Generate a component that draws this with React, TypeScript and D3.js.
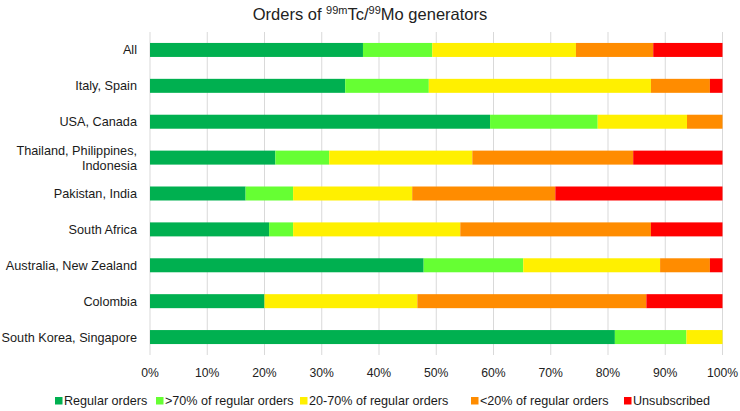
import React from "react";
import * as d3 from "d3";

const categories = [
  "All",
  "Italy, Spain",
  "USA, Canada",
  "Thailand, Philippines, Indonesia",
  "Pakistan, India",
  "South Africa",
  "Australia, New Zealand",
  "Colombia",
  "South Korea, Singapore",
];

const seriesNames = [
  "Regular orders",
  ">70% of regular orders",
  "20-70% of regular orders",
  "<20% of regular orders",
  "Unsubscribed",
];

const regularOrders = [37.2, 34.1, 59.4, 21.9, 16.7, 20.8, 47.8, 20.0, 81.2];
const above70 = [12.1, 14.6, 18.8, 9.4, 8.3, 4.2, 17.4, 0, 12.5];
const between20and70 = [25.1, 38.8, 15.6, 25.0, 20.8, 29.2, 23.9, 26.7, 6.3];
const below20 = [13.5, 10.3, 6.2, 28.1, 25.0, 33.3, 8.7, 40.0, 0];
const unsubscribed = [12.1, 2.2, 0, 15.6, 29.2, 12.5, 2.2, 13.3, 0];

const xTicks = [0, 10, 20, 30, 40, 50, 60, 70, 80, 90, 100];

const colors = ["#00B050", "#66FF33", "#FFF000", "#FF8C00", "#FF0000"];

const W = 740;
const H = 411;
const FONT = "'Liberation Sans', Arial, Helvetica, sans-serif";

export default function App() {
  const series = [regularOrders, above70, between20and70, below20, unsubscribed];
  const rows = categories.map((c, i) => {
    const r: any = { cat: c };
    seriesNames.forEach((s, j) => (r[s] = series[j][i]));
    return r;
  });
  const stacked = d3.stack().keys(seriesNames)(rows);

  const x = d3.scaleLinear().domain([0, 100]).range([150, 722.5]);
  const y = d3
    .scaleBand()
    .domain(categories)
    .range([32, 355])
    .paddingInner(0.61)
    .paddingOuter(0.305);

  const legendX = [55, 156, 300, 471, 624];

  return (
    <svg
      width={W}
      height={H}
      style={{ position: "absolute", left: 0, top: 0, background: "#fff" }}
      fontFamily={FONT}
    >
      <rect width={W} height={H} fill="#fff" />
      <text x={370} y={20} textAnchor="middle" fontSize={16.5} fill="#222">
        <tspan>Orders of </tspan>
        <tspan fontSize={11} dy={-6}>99m</tspan>
        <tspan dy={6}>Tc/</tspan>
        <tspan fontSize={11} dy={-6}>99</tspan>
        <tspan dy={6}>Mo generators</tspan>
      </text>

      {xTicks.map((t) => (
        <g key={t}>
          <line x1={x(t)} x2={x(t)} y1={32} y2={355} stroke="#D9D9D9" strokeWidth={1} />
          <text x={x(t)} y={377} textAnchor="middle" fontSize={12.2} fill="#222">
            {t}%
          </text>
        </g>
      ))}

      {stacked.map((s, j) => (
        <g key={s.key} fill={colors[j]}>
          {s.map((d, i) =>
            d[1] - d[0] > 0 ? (
              <rect
                key={i}
                x={x(d[0])}
                y={y(categories[i])}
                width={x(d[1]) - x(d[0])}
                height={y.bandwidth()}
              />
            ) : null
          )}
        </g>
      ))}

      {categories.map((c) => {
        const cy = (y(c) as number) + y.bandwidth() / 2;
        if (c === "Thailand, Philippines, Indonesia") {
          return (
            <text key={c} x={137} y={cy} textAnchor="end" fontSize={12.7} fill="#1a1a1a">
              <tspan x={137} dy={-2.6}>Thailand, Philippines,</tspan>
              <tspan x={137} dy={14.5}>Indonesia</tspan>
            </text>
          );
        }
        return (
          <text key={c} x={137} y={cy} dy="0.35em" textAnchor="end" fontSize={12.7} fill="#1a1a1a">
            {c}
          </text>
        );
      })}

      {seriesNames.map((s, j) => (
        <g key={s}>
          <rect x={legendX[j]} y={397} width={7.5} height={7.5} fill={colors[j]} />
          <text x={legendX[j] + 9} y={405} fontSize={12.6} fill="#1a1a1a">
            {s}
          </text>
        </g>
      ))}
    </svg>
  );
}
